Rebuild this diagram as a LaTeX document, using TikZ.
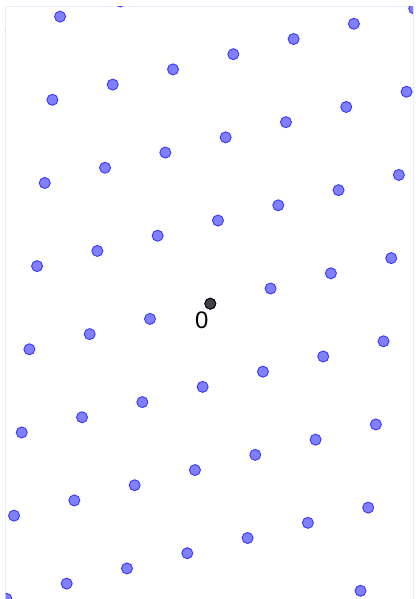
\documentclass[tikz,border=0pt]{standalone}
\usepackage{fontspec}
\setmainfont{Liberation Sans}
\definecolor{ptfill}{RGB}{128,128,255}
\definecolor{ptdraw}{RGB}{55,55,255}
\definecolor{orfill}{RGB}{64,64,72}
\definecolor{frame}{RGB}{236,236,250}
\begin{document}
\begin{tikzpicture}[x=1bp,y=-1bp,
  latpt/.style={fill=ptfill, draw=ptdraw, line width=0.9bp},
  orpt/.style={fill=orfill, draw=black, line width=0.9bp},
  framestyle/.style={draw=frame, line width=1bp},
  lbl/.style={inner sep=0pt, anchor=base west, font=\fontsize{24}{28}\selectfont}]
\useasboundingbox (0,0) rectangle (415,599);
\draw[framestyle] (5.5,620) -- (5.5,7) -- (413,7) -- (413,620);
\begin{scope}
  \clip (5.5,7) rectangle (413,620);
  \foreach \n in {-8,...,8}{
    \foreach \m in {-8,...,8}{
      \pgfmathsetmacro\px{210.3+60.3*\n+7.67*\m}
      \pgfmathsetmacro\py{303.7-15.2*\n-83.17*\m}
      \filldraw[latpt] (\px,\py) circle (5.5);
    }
  }
  \filldraw[orpt] (210.3,303.7) circle (5.5);
\end{scope}
\coordinate (O) at (210.3,303.7);
\node[lbl] (zero) at (195,328) {0};
\end{tikzpicture}
\end{document}
